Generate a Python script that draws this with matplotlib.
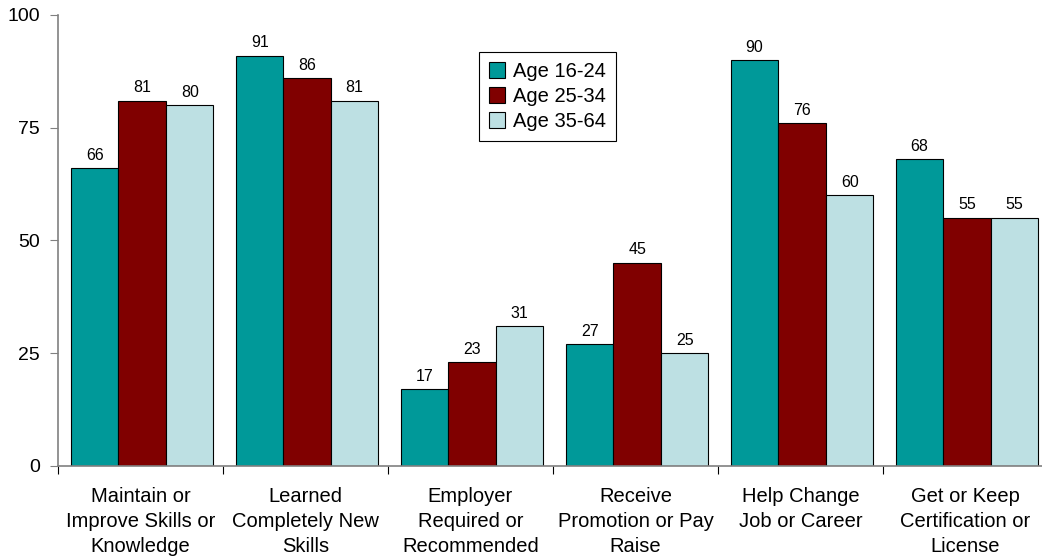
import numpy as np
import matplotlib
matplotlib.use('Agg')
import matplotlib.pyplot as plt
from matplotlib.ticker import FixedLocator, NullFormatter

plt.rcParams['font.family'] = ['Liberation Sans', 'DejaVu Sans']

categories = ['Maintain or\nImprove Skills or\nKnowledge', 'Learned\nCompletely New\nSkills',
              'Employer\nRequired or\nRecommended', 'Receive\nPromotion or Pay\nRaise',
              'Help Change\nJob or Career', 'Get or Keep\nCertification or\nLicense']
series = ['Age 16-24', 'Age 25-34', 'Age 35-64']
age_16_24 = [66, 91, 17, 27, 90, 68]
age_25_34 = [81, 86, 23, 45, 76, 55]
age_35_64 = [80, 81, 31, 25, 60, 55]
colors = ['#009999', '#800000', '#BDE0E3']

fig = plt.figure(figsize=(10.42, 5.59), dpi=100)
ax = fig.add_axes([0.0557, 0.1664, 0.950, 0.8068])

x = np.arange(len(categories))
w = 0.288
for i, (vals, lab, c) in enumerate(zip([age_16_24, age_25_34, age_35_64], series, colors)):
    pos = x + (i - 1) * w + 0.01
    ax.bar(pos, vals, w, color=c, edgecolor='black', linewidth=0.8, label=lab)
    for p, v in zip(pos, vals):
        ax.annotate(str(v), (p, v), xytext=(0, 4), textcoords='offset points',
                    ha='center', va='bottom', fontsize=11.5)

ax.set_xlim(-0.5, len(categories) - 0.5)
ax.set_ylim(0, 100)
ax.set_yticks([0, 25, 50, 75, 100])
ax.tick_params(axis='y', labelsize=14, length=6, color='#808080', direction='out', pad=7)

ax.xaxis.set_major_locator(FixedLocator(np.arange(len(categories) + 1) - 0.5))
ax.xaxis.set_major_formatter(NullFormatter())
ax.xaxis.set_minor_locator(FixedLocator(x))
ax.set_xticklabels(categories, minor=True, fontsize=14.5, linespacing=1.42)
ax.tick_params(axis='x', which='major', length=6, color='black', direction='out')
ax.tick_params(axis='x', which='minor', length=0, pad=15)

for s in ['top', 'right']:
    ax.spines[s].set_visible(False)
for s in ['left', 'bottom']:
    ax.spines[s].set_color('#808080')
    ax.spines[s].set_linewidth(1.2)

leg = ax.legend(loc='upper left', bbox_to_anchor=(0.425, 0.918), borderaxespad=0,
                fontsize=14.5, fancybox=False, framealpha=1, edgecolor='black',
                handlelength=0.8, handleheight=0.8, handletextpad=0.4,
                labelspacing=0.3, borderpad=0.5)
leg.get_frame().set_linewidth(0.8)

fig.savefig('out.png', dpi=100)
